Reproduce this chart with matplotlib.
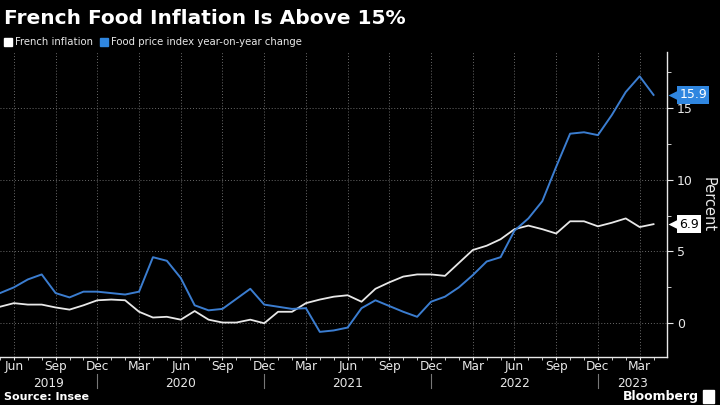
import numpy as np
import matplotlib.pyplot as plt
import matplotlib.transforms as mtransforms
from matplotlib.patches import Rectangle

# --- DATA (monthly, May 2019 -> Apr 2023) ---
start_year, start_month = 2019, 5
food = [2.1, 2.5, 3.05, 3.4, 2.1, 1.8, 2.2, 2.2,
        2.1, 2.0, 2.2, 4.6, 4.35, 3.15, 1.25, 0.9, 1.0, 1.7, 2.4, 1.3,
        1.15, 1.0, 1.05, -0.6, -0.5, -0.3, 1.05, 1.6, 1.2, 0.8, 0.45, 1.5,
        1.85, 2.5, 3.35, 4.3, 4.6, 6.45, 7.3, 8.5, 10.9, 13.2, 13.3, 13.1,
        14.5, 16.1, 17.2, 15.9]
cpi = [1.15, 1.4, 1.3, 1.3, 1.1, 0.95, 1.25, 1.6,
       1.65, 1.6, 0.8, 0.4, 0.45, 0.25, 0.85, 0.25, 0.05, 0.05, 0.25, 0.0,
       0.8, 0.8, 1.4, 1.65, 1.85, 1.95, 1.5, 2.4, 2.85, 3.25, 3.4, 3.4,
       3.3, 4.2, 5.1, 5.4, 5.85, 6.55, 6.8, 6.55, 6.25, 7.1, 7.1, 6.75,
       7.0, 7.3, 6.7, 6.9]
month_names = ['Jan', 'Feb', 'Mar', 'Apr', 'May', 'Jun',
               'Jul', 'Aug', 'Sep', 'Oct', 'Nov', 'Dec']

BG = 'black'
WHITE = '#e8e8e8'
BLUE = '#3b7dd0'
BLUE_BOX = '#2f86e0'
GRID = '#6a6a6a'

n = len(food)
x = np.arange(n)
months = [(start_month - 1 + i) % 12 + 1 for i in range(n)]
years = [start_year + (start_month - 1 + i) // 12 for i in range(n)]

fig = plt.figure(figsize=(7.2, 4.05), dpi=100, facecolor=BG)
ax = fig.add_axes([0, 0.1185, 0.927, 0.7535])
ax.set_facecolor(BG)

ax.plot(x, cpi, color=WHITE, lw=1.3, zorder=3)
ax.plot(x, food, color=BLUE, lw=1.4, zorder=4)

ax.set_xlim(0, n)
ax.set_ylim(-2.35, 18.9)

# y axis on the right
ax.yaxis.tick_right()
ax.yaxis.set_label_position('right')
ax.set_yticks([0, 5, 10, 15])
ax.set_yticks([2.5, 7.5, 12.5, 17.5], minor=True)
ax.set_ylabel('Percent', rotation=270, color=WHITE, fontsize=10.5, labelpad=16)

# x axis: quarter labels, monthly minor ticks
quarter = [i for i in x if months[i] in (3, 6, 9, 12)]
ax.set_xticks(quarter)
ax.set_xticklabels([month_names[months[i] - 1] for i in quarter])
ax.set_xticks(x, minor=True)

ax.tick_params(axis='both', which='both', colors=WHITE, labelcolor=WHITE,
               labelsize=9, direction='out')
ax.tick_params(axis='y', which='major', length=4, pad=3)
ax.tick_params(axis='y', which='minor', length=3)
ax.tick_params(axis='x', which='major', length=2, pad=0.5, labelsize=8.7)
ax.tick_params(axis='x', which='minor', length=2)

for s in ['top', 'left']:
    ax.spines[s].set_visible(False)
for s in ['bottom', 'right']:
    ax.spines[s].set_color(WHITE)
    ax.spines[s].set_linewidth(1.0)

ax.grid(True, which='major', color=GRID, ls=(0, (1, 2)), lw=0.7)

# year labels and separators
trans = mtransforms.blended_transform_factory(ax.transData, ax.transAxes)
dec_idx = [i for i in x if months[i] == 12]
bounds = [0] + dec_idx + [n]
for a, b in zip(bounds[:-1], bounds[1:]):
    yr = years[a + 1] if a > 0 else years[0]
    ax.text((a + b) / 2, -0.088, str(yr), transform=trans, ha='center',
            va='center', color=WHITE, fontsize=8.7)
for d in dec_idx:
    ax.plot([d, d], [-0.055, -0.1], transform=trans, color='#777777',
            lw=0.8, clip_on=False)

# end-of-line value labels
ytrans = mtransforms.blended_transform_factory(ax.transAxes, ax.transData)
for val, fc, tc in [(food[-1], BLUE_BOX, 'white'), (cpi[-1], 'white', 'black')]:
    ax.plot([1.009], [val], marker='<', ms=7, color=fc, mec='none',
            transform=ytrans, clip_on=False, zorder=5)
    ax.text(1.018, val, f'{val:.1f}', transform=ytrans, ha='left',
            va='center', color=tc, fontsize=9,
            bbox=dict(boxstyle='square,pad=0.18', fc=fc, ec='none'),
            zorder=6)

# title, legend, source
fig.text(0.006, 0.955, 'French Food Inflation Is Above 15%', color='white',
         fontsize=14.5, weight='bold', va='center')
fig.patches.append(Rectangle((0.006, 0.887), 0.011, 0.02, color='white',
                             transform=fig.transFigure))
fig.text(0.021, 0.897, 'French inflation', color=WHITE, fontsize=7.3,
         va='center')
fig.patches.append(Rectangle((0.139, 0.887), 0.011, 0.02, color=BLUE_BOX,
                             transform=fig.transFigure))
fig.text(0.154, 0.897, 'Food price index year-on-year change', color=WHITE,
         fontsize=7.3, va='center')
fig.text(0.006, 0.02, 'Source: Insee', color='white', fontsize=8,
         weight='bold', va='center')
fig.text(0.97, 0.02, 'Bloomberg', color='white', fontsize=9,
         weight='bold', ha='right', va='center')
fig.patches.append(Rectangle((0.977, 0.006), 0.014, 0.03, color='white',
                             transform=fig.transFigure))

plt.savefig('out.png', dpi=100, facecolor=BG)
